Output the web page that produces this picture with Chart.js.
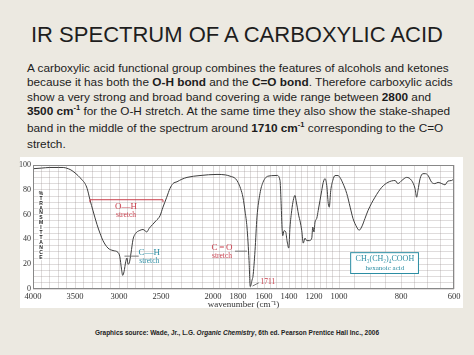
<!DOCTYPE html>
<html><head><meta charset="utf-8">
<script src="https://cdn.jsdelivr.net/npm/chart.js@4.4.1/dist/chart.umd.min.js"></script>
<style>
html,body{margin:0;padding:0;}
body{width:474px;height:355px;background:#ece9e1;position:relative;overflow:hidden;font-family:"Liberation Sans",Arial,sans-serif;}
#title{position:absolute;left:0;width:474px;top:19px;text-align:center;font-size:22px;color:#1e1e1e;line-height:32px;}
#para{position:absolute;left:27px;top:61px;font-size:11.8px;line-height:14.4px;color:#1c1c1c;white-space:nowrap;}
#para sup{font-size:7.5px;vertical-align:baseline;position:relative;top:-5px;}
#panel{position:absolute;left:20px;top:157px;width:443px;height:151px;background:#fff;}
#chartbox{position:absolute;left:0;top:150px;width:474px;height:170px;}
#source{position:absolute;left:0;width:474px;top:329px;text-align:center;font-size:6.5px;font-weight:bold;color:#222;}
</style></head>
<body>
<div id="title">IR SPECTRUM OF A CARBOXYLIC ACID</div>
<div id="para">A carboxylic acid functional group combines the features of alcohols and ketones<br>because it has both the <b>O-H bond</b> and the <b>C=O bond</b>. Therefore carboxylic acids<br>show a very strong and broad band covering a wide range between <b>2800</b> and<br><b>3500 cm<sup>-1</sup></b> for the O-H stretch. At the same time they also show the stake-shaped<br>band in the middle of the spectrum around <b>1710 cm<sup>-1</sup></b> corresponding to the C=O<br>stretch.</div>
<div id="panel"></div>
<div id="chartbox"><canvas id="c"></canvas></div>
<div id="source">Graphics source: Wade, Jr., L.G. <i>Organic Chemistry</i>, 6th ed. Pearson Prentice Hall Inc., 2006</div>
<script>
const xTickLabels = [4000,3500,3000,2500,2000,1800,1600,1400,1200,1000,800,600];
const yTickLabels = [0,20,40,60,80,100];
const wavenumbers = [4000,3900,3800,3700,3640,3580,3536,3466,3420,3386,3362,3330,3295,3250,3216,3182,3125,3068,3011,2990,2970,2956,2940,2920,2905,2893,2878,2857,2833,2800,2760,2714,2690,2670,2640,2600,2560,2512,2481,2445,2414,2385,2346,2300,2250,2125,1968,1900,1864,1820,1800,1780,1762,1745,1731,1715,1706,1690,1685,1669,1654,1631,1608,1568,1512,1496,1472,1464,1456,1450,1440,1426,1416,1402,1392,1378,1366,1352,1344,1334,1322,1312,1298,1286,1272,1258,1238,1218,1210,1200,1192,1178,1166,1152,1138,1126,1112,1098,1086,1078,1066,1050,1032,1008,997,987,975,964,955,943,935,927,916,906,884,862,842,819,810,797,779,760,747,741,736,728,717,707,698,684,672,660,646,634,623,609,600];
const transmittance = [97,97.5,98,98,98,97,95.5,91.5,88,85,81,72,63,52,45,39,33,31,29.5,26,16,11,14,22,25,20,21,29,40,45,47,48,47,46,49,52,55,59,66,74,81,85,86.5,88.5,90,91.5,92.4,92,91,89,86,81,74,62,50,23,2,8,10,31,58,77,86,91,91.5,91.6,87.5,71.5,50,43,47,46,39,33,50,63.5,71.5,75.5,71.5,66,59,55,47,37,41,39,39,41,50,46,54,57,63.5,71.5,79.5,86,89,83.5,69,66,79.5,87.5,91.5,91.5,90,85,77,66,57,50,47.4,50,57,63.5,74,82,86,87.5,85,87.5,90,87.5,81,74,79.5,89,93,93,91.6,86,85,86,85,84,87,87.5,89];

// x-axis scale definition: the printed axis is piecewise linear between its labelled wavenumbers
const axisBreaks = [0,42,86,128,180,205,231,256,281,306,368,421];
function toU(w){
  for(let i=0;i<xTickLabels.length-1;i++){
    const a=xTickLabels[i], b=xTickLabels[i+1];
    if(w<=a && w>=b) return axisBreaks[i]+(a-w)/(a-b)*(axisBreaks[i+1]-axisBreaks[i]);
  }
  return w>xTickLabels[0]?0:axisBreaks[axisBreaks.length-1];
}
const gridW=[];
for(let w=4000;w>2000;w-=100) gridW.push(w);
for(let w=2000;w>=600;w-=50) gridW.push(w);

const RED='#c9404e', TEAL='#2b8da3', GREY='#777';

const framePlugin={id:'frame',beforeDatasetsDraw(chart){
  const a=chart.chartArea,ctx=chart.ctx;ctx.save();
  const txt='%TRANSMITTANCE';const x=a.left+8;const y0=chart.scales.y.getPixelForValue(77);
  ctx.fillStyle='#fff';ctx.fillRect(x-2.5,y0-3,5,txt.length*4.9+1);
  ctx.fillStyle='#222';ctx.font='bold 5px "Liberation Sans"';ctx.textAlign='center';ctx.textBaseline='middle';
  for(let i=0;i<txt.length;i++) ctx.fillText(txt[i],x,y0+i*4.9);
  ctx.restore();
},afterDraw(chart){
  const a=chart.chartArea,ctx=chart.ctx;ctx.save();
  ctx.strokeStyle='#888';ctx.lineWidth=1;ctx.strokeRect(a.left+0.5,a.top+0.5,a.right-a.left-1,a.bottom-a.top-1);
  ctx.restore();
}};

const notePlugin={id:'notes',afterDatasetsDraw(chart){
  const X=w=>chart.scales.x.getPixelForValue(toU(w)), Y=t=>chart.scales.y.getPixelForValue(t);
  const ctx=chart.ctx;ctx.save();
  const line=(w1,t1,w2,t2,c)=>{ctx.strokeStyle=c;ctx.lineWidth=1;ctx.beginPath();ctx.moveTo(X(w1),Y(t1));ctx.lineTo(X(w2),Y(t2));ctx.stroke();};
  const text=(s,w,t,c,f)=>{ctx.fillStyle=c;ctx.font=f;ctx.textAlign='center';ctx.textBaseline='middle';ctx.fillText(s,X(w),Y(t));};
  line(3330,72,2481,72,RED);line(3330,72,3330,70,RED);line(2481,72,2481,70,RED);
  text('O\u2014H',2917,66.5,RED,'9px "Liberation Serif"');
  text('stretch',2917,59.5,RED,'7.5px "Liberation Serif"');
  line(2935,26.5,2765,26.5,GREY);
  text('C\u2014H',2640,29.7,TEAL,'9px "Liberation Serif"');
  text('stretch',2640,22.5,TEAL,'7.5px "Liberation Serif"');
  line(1824,30.5,1731,30.5,GREY);
  text('C\u2009=\u2009O',1928,33.7,RED,'9px "Liberation Serif"');
  text('stretch',1928,26.5,RED,'7.5px "Liberation Serif"');
  line(1688,2.4,1640,5,GREY);
  text('1711',1569,5.6,RED,'7.5px "Liberation Serif"');
  const bx=X(964),by=Y(29.7),bw=X(736)-X(964),bh=Y(12.9)-Y(29.7);
  ctx.fillStyle='#fff';ctx.fillRect(bx,by,bw,bh);ctx.strokeStyle=TEAL;ctx.strokeRect(bx+0.5,by+0.5,bw,bh);
  text('CH\u2083(CH\u2082)\u2084COOH',852,24.2,TEAL,'8px "Liberation Serif"');
  text('hexanoic acid',852,17,TEAL,'7px "Liberation Serif"');
  ctx.restore();
}};

const points=wavenumbers.map((w,i)=>({x:toU(w),y:transmittance[i]}));
new Chart(document.getElementById('c'),{
  type:'line',
  data:{datasets:[{data:points,borderColor:'#3d3d3d',borderWidth:1,pointRadius:0,cubicInterpolationMode:'monotone',fill:false}]},
  options:{
    responsive:true,maintainAspectRatio:false,animation:false,devicePixelRatio:1,
    layout:{padding:{left:0,right:20,top:15,bottom:0}},
    plugins:{legend:{display:false},tooltip:{enabled:false}},
    scales:{
      x:{type:'linear',min:0,max:axisBreaks[axisBreaks.length-1],
        afterBuildTicks:s=>{s.ticks=gridW.map(w=>({value:toU(w),wn:w}));},
        afterFit:s=>{s.height=31;},
        ticks:{autoSkip:false,maxRotation:0,padding:3,color:'#333',font:{family:'Liberation Serif',size:8.5},
          callback:(v,i,t)=>xTickLabels.includes(t[i].wn)?String(t[i].wn):''},
        grid:{color:'rgba(150,140,140,0.38)',lineWidth:0.8,drawTicks:false},
        border:{display:false},
        title:{display:true,text:'wavenumber (cm\u207B\u00B9)',color:'#333',font:{family:'Liberation Serif',size:9},padding:{top:0,bottom:10}}
      },
      y:{min:0,max:100,
        afterFit:s=>{s.width=33;},
        ticks:{stepSize:5,autoSkip:false,padding:2,color:'#333',font:{family:'Liberation Serif',size:8},
          callback:v=>yTickLabels.includes(v)?String(v):''},
        grid:{color:'rgba(150,140,140,0.38)',lineWidth:0.8,drawTicks:false},
        border:{display:false}
      }
    }
  },
  plugins:[framePlugin,notePlugin]
});
</script>
</body></html>
